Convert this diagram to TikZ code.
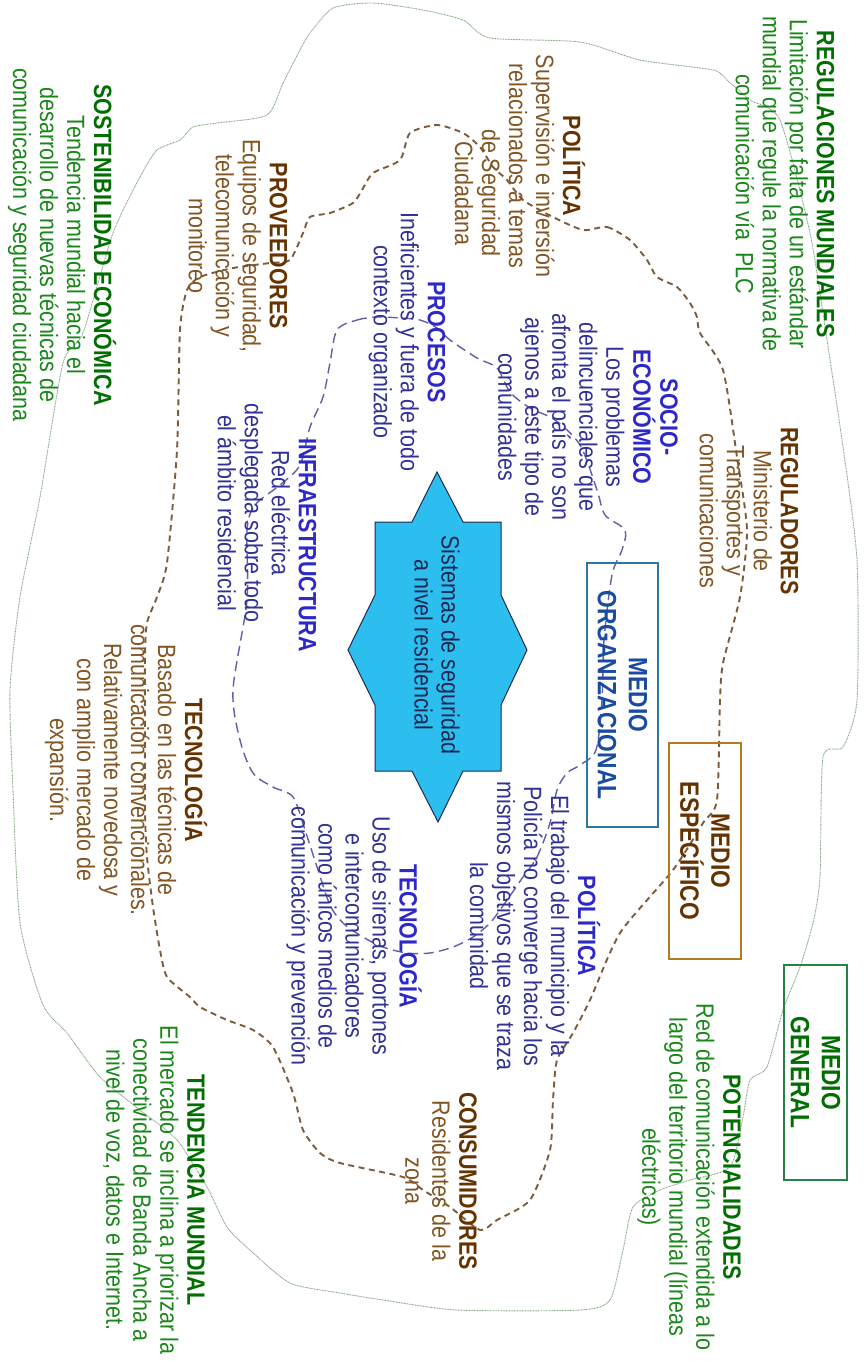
\documentclass[tikz,border=0pt]{standalone}
\usepackage{fontspec}
\setmainfont{Liberation Sans}[FakeStretch=0.86]
\definecolor{grnH}{RGB}{0,110,0}
\definecolor{grnB}{RGB}{25,135,25}
\definecolor{brnH}{RGB}{102,51,0}
\definecolor{brnB}{RGB}{130,85,35}
\definecolor{bluH}{RGB}{45,40,200}
\definecolor{bluB}{RGB}{50,50,150}
\definecolor{orgT}{RGB}{25,75,160}
\definecolor{orgBox}{RGB}{45,120,160}
\definecolor{espBox}{RGB}{175,125,30}
\definecolor{genBox}{RGB}{40,130,70}
\definecolor{loopG}{RGB}{130,165,130}
\definecolor{loopBr}{RGB}{125,92,60}
\definecolor{loopBl}{RGB}{95,95,170}
\definecolor{starFill}{RGB}{45,190,240}
\definecolor{starDraw}{RGB}{30,40,80}
\newcommand{\headG}[1]{\textcolor{grnH}{\textbf{#1}}}
\newcommand{\headBr}[1]{\textcolor{brnH}{\textbf{#1}}}
\newcommand{\headBl}[1]{\textcolor{bluH}{\textbf{#1}}}
\begin{document}
\begin{tikzpicture}[x=1pt,y=-1pt,
  txt/.style={rotate=-90, align=center, inner sep=0pt, font=\fontsize{25}{27}\selectfont},
  greentxt/.style={txt, text=grnB},
  browntxt/.style={txt, text=brnB},
  bluetxt/.style={txt, text=bluB},
  medio/.style={rotate=-90, align=center, inner sep=0pt, line width=1.3pt,
    font=\fontsize{26.5}{31}\selectfont\bfseries},
  outerloop/.style={draw=loopG, line width=0.9pt, dash pattern=on 0.9pt off 0.7pt},
  midloop/.style={draw=loopBr, line width=1.9pt, dash pattern=on 6pt off 4.5pt},
  innerloop/.style={draw=loopBl, line width=1.4pt, dash pattern=on 10pt off 5.5pt}]

\fill[white] (0,0) rectangle (863,1361);
\useasboundingbox (0,0) rectangle (863,1361);

% general environment boundary
\draw[outerloop] plot[smooth cycle, tension=0.4] coordinates {
 (580,42) (640,60) (713,70) (727,80) (750,100) (780,120) (810,233) (827,340)
 (843,447) (857,560) (857,700) (843,747) (823,757) (820,877) (813,923) (800,967)
 (783,1010) (767,1067) (750,1080) (743,1117) (730,1167) (690,1180) (660,1190)
 (633,1207) (623,1250) (610,1300) (580,1310) (457,1310) (383,1300) (340,1293)
 (290,1283) (250,1250) (227,1227) (207,1187) (177,1140) (140,1110) (100,1077)
 (67,1033) (43,1005) (20,923) (13,790) (10,690) (20,597) (40,497) (63,363)
 (83,333) (113,233) (140,177) (157,150) (180,140) (193,127) (217,123) (267,115)
 (283,83) (300,50) (310,33) (333,8) (373,3) (423,10) (463,20) (490,38)};

% specific environment boundary
\draw[midloop] plot[smooth cycle, tension=0.4] coordinates {
 (583,230) (607,227) (630,240) (647,260) (657,277) (677,287) (690,303) (697,317)
 (700,333) (723,370) (737,457) (747,530) (740,597) (723,663) (720,700) (717,800)
 (703,823) (673,870) (620,933) (590,1000) (573,1033) (557,1060) (553,1100)
 (550,1150) (530,1200) (497,1220) (480,1230) (450,1207) (423,1190) (403,1177)
 (340,1163) (320,1153) (303,1130) (293,1093) (273,1047) (253,1030) (227,1020)
 (200,1007) (190,997) (167,977) (160,950) (153,907) (147,857) (145,807)
 (145,660) (147,623) (157,597) (167,563) (177,450) (180,330) (187,290)
 (200,277) (233,268) (270,263) (290,260) (303,233) (310,217) (330,213)
 (353,203) (362,190) (373,173) (400,160) (410,133) (437,125) (463,133)
 (480,147) (493,167) (507,180) (523,200) (553,217)};

% organisational environment boundary
\draw[innerloop] plot[smooth cycle, tension=0.5] coordinates {
 (337,330) (357,320) (377,317) (400,318) (420,320) (437,328) (450,340)
 (477,358) (497,368) (510,392) (530,408) (555,420) (580,445) (597,490)
 (605,515) (625,530) (622,550) (612,575) (604,640) (602,700) (596,750)
 (580,765) (567,773) (557,790) (550,823) (537,857) (523,877) (505,903)
 (490,923) (473,937) (453,947) (430,953) (407,953) (383,947) (363,937)
 (343,923) (330,905) (318,870) (305,830) (293,797) (273,787) (253,773)
 (240,740) (233,690) (247,600) (247,530) (255,505) (280,485) (300,465)
 (310,427) (323,397) (330,363)};

% central system
\draw[fill=starFill, draw=starDraw, line width=1pt, line join=miter]
  (437,472) -- (463,522) -- (501,522) -- (501,595) -- (527,650) -- (501,705)
  -- (501,771) -- (463,771) -- (438,822) -- (412,771) -- (375,771) -- (375,705)
  -- (348,650) -- (375,595) -- (375,522) -- (412,522) -- cycle;
\node[txt, text=starDraw] (core) at (437,645) {Sistemas de seguridad\\a nivel residencial};

% environment labels
\node[medio, draw=genBox, text=grnH, minimum width=215pt, minimum height=63pt]
  (general) at (815.5,1072.5) {MEDIO\\GENERAL};
\node[medio, draw=espBox, text=brnH, minimum width=216pt, minimum height=72pt]
  (especifico) at (705,851) {MEDIO\\ESPECÍFICO};
\node[medio, draw=orgBox, text=orgT, minimum width=264pt, minimum height=71pt]
  (organizacional) at (622.5,695) {MEDIO\\ORGANIZACIONAL};

% general environment
\node[greentxt] (regmund) at (785,184) {\headG{REGULACIONES MUNDIALES}\\
  Limitación por falta de un estándar\\mundial que regule la normativa de\\comunicación vía\ \ PLC};
\node[greentxt] (sosten) at (62,245) {\headG{SOSTENIBILIDAD ECONÓMICA}\\
  Tendencia mundial hacia el\\desarrollo de nuevas técnicas de\\comunicación y seguridad ciudadana};
\node[greentxt] (potenc) at (689,1177) {\headG{POTENCIALIDADES}\\
  Red de comunicación extendida a lo\\largo del territorio mundial (líneas\\eléctricas)};
\node[greentxt] (tendencia) at (154,1190) {\headG{TENDENCIA\ MUNDIAL}\\
  El mercado se inclina a priorizar la\\conectividad de Banda Ancha a\\nivel de voz, datos e Internet.};

% specific environment
\node[browntxt] (polext) at (520,166) {\headBr{POLÍTICA}\\
  Supervisión e inversión\\relacionados a temas\\\hspace*{54pt}de Seguridad\\\hspace*{54pt}Ciudadana};
\node[browntxt] (proveed) at (238,246) {\headBr{PROVEEDORES}\\
  Equipos de seguridad,\\telecomunicación y\\monitoreo};
\node[browntxt] (regulad) at (749,511) {\headBr{REGULADORES}\\
  Ministerio de\\Transportes y\\comunicaciones};
\node[browntxt] (tecext) at (126,770) {\headBr{TECNOLOGÍA}\\
  Basado en las técnicas de\\comunicación convencionales.\\Relativamente novedosa y\\con amplio mercado de\\expansión.};
\node[browntxt] (consum) at (441,1181) {\headBr{CONSUMIDORES}\\
  Residentes de la\\zona};

% organisational environment
\node[bluetxt] (socio) at (588,417) {\headBl{SOCIO-}\\\headBl{ECONÓMICO}\\
  Los problemas\\delincuenciales que\\afronta el país no son\\ajenos a este tipo de\\comunidades};
\node[bluetxt] (procesos) at (407,342) {\headBl{PROCESOS}\\
  Ineficientes y fuera de todo\\contexto organizado};
\node[bluetxt] (infra) at (267,513) {\hspace*{64pt}\headBl{INFRAESTRUCTURA}\\
  Red eléctrica\\desplegada sobre todo\\el ámbito residencial};
\node[bluetxt] (tecint) at (354,936) {\headBl{TECNOLOGÍA}\\
  Uso de sirenas, portones\\e intercomunicadores\\como únicos medios de\\comunicación y prevención};
\node[bluetxt] (polint) at (535,926) {\headBl{POLÍTICA}\\
  El trabajo del municipio y la\\Policía no converge hacia los\\mismos objetivos que se traza\\la comunidad};
\end{tikzpicture}
\end{document}
